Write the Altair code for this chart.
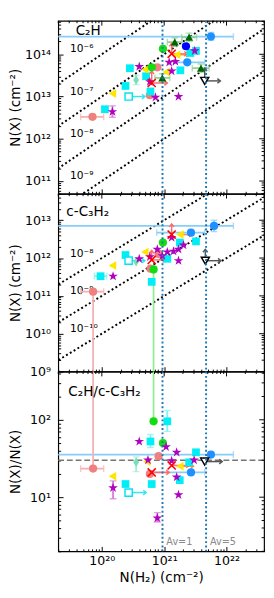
import math
import altair as alt
import pandas as pd

FONT = "DejaVu Sans"
W = 213
H = {1: 179, 2: 184, 3: 186}
XDOM = [2e19, 4e22]
YDOM = {1: [5e10, 6.2e14], 2: [1e9, 5e13], 3: [2, 420]}

# ---------------- values (log10 N(H2), log10 N(X) or log10 ratio)
C2H = {
    "salmon": ([19.85, 20.77, 20.89], [12.52, 13.03, 13.69]),
    "cyan": ([20.05, 20.38, 20.45, 20.71, 20.78, 21.26, 21.42, 21.51],
             [12.70, 13.25, 13.67, 13.48, 13.12, 13.62, 14.03, 14.08]),
    "aqua": ([20.55], [13.39]),
    "yellow": ([20.17, 20.69, 21.03, 21.20], [13.07, 13.64, 13.58, 13.99]),
    "lime": ([20.98, 20.80], [14.13, 13.69]),
    "purple": ([20.60, 20.17, 20.86, 21.23, 21.08, 21.18, 21.12, 21.49, 20.77],
               [13.71, 12.64, 12.98, 13.00, 13.81, 13.83, 13.60, 14.08, 13.35]),
    "blue": ([21.35], [14.19]),
    "dodger": ([21.75, 21.37], [14.42, 13.81]),
    "dkgreen": ([21.40, 21.17, 21.59, 20.97], [14.40, 14.29, 13.67, 13.44]),
    "redx": ([21.12, 20.80], [14.01, 13.32]),
    "cyan_open": ([20.43], [13.00]),
    "opentri": ([21.65], [13.37]),
}
C3H2 = {
    "salmon": ([19.86, 20.78, 20.91], [11.11, 11.72, 12.11]),
    "cyan": ([20.38, 19.98, 20.80, 21.25, 21.51, 21.05], [12.08, 11.52, 11.37, 12.41, 12.44, 11.98]),
    "aqua": ([20.55], [11.90]),
    "yellow": ([20.17, 20.69, 21.25], [11.80, 12.16, 12.62]),
    "lime": ([20.98, 20.83], [12.41, 11.70]),
    "purple": ([20.18, 20.60, 20.89, 21.05, 21.15, 21.23, 21.23, 21.12, 20.77, 20.97, 21.31],
               [11.52, 11.98, 12.23, 12.16, 12.18, 12.23, 11.93, 12.54, 12.03, 12.06, 12.34]),
    "dodger": ([21.80, 21.43], [12.85, 12.67]),
    "redx": ([21.12, 20.80], [12.62, 11.95]),
    "cyan_open": ([20.43], [11.93]),
    "opentri": ([21.66], [11.93]),
}
RATIO = {
    "salmon": ([19.86, 20.91, 20.77], [1.37, 1.53, 1.30]),
    "cyan": ([21.05, 20.78, 20.38, 20.80, 21.25, 21.51, 21.40], [1.98, 1.72, 1.17, 1.17, 1.22, 1.58, 1.45]),
    "aqua": ([20.55], [1.45]),
    "yellow": ([20.17, 20.72, 21.25], [1.27, 1.46, 1.40]),
    "lime": ([20.83, 20.98], [1.98, 1.70]),
    "purple": ([20.60, 20.18, 20.89, 21.03, 21.20, 20.74, 21.12, 21.48, 21.20, 21.23],
               [1.72, 1.12, 0.73, 1.65, 1.58, 1.48, 1.47, 1.48, 1.26, 1.03]),
    "dodger": ([21.75, 21.43], [1.55, 1.32]),
    "redx": ([20.80, 21.12], [1.32, 1.41]),
    "cyan_open": ([20.43], [1.06]),
    "opentri": ([21.65], [1.46]),
}

# x error bars: (panel, group, log y, log x low, log x high)
XERR = [
    (1, "dodger", 14.42, 19.0, 22.11), (1, "dodger", 13.81, 21.15, 21.65), (1, "salmon", 12.52, 19.66, 20.03),
    (1, "dkgreen", 14.40, 21.28, 21.52), (1, "dkgreen", 14.29, 21.05, 21.29),
    (1, "dkgreen", 13.67, 21.45, 21.72), (1, "dkgreen", 13.44, 20.85, 21.09),
    (2, "dodger", 12.85, 19.0, 22.11), (2, "dodger", 12.67, 20.88, 21.65), (2, "salmon", 11.11, 19.66, 20.03),
    (2, "cyan", 11.52, 19.88, 20.08),
    (3, "dodger", 1.55, 19.0, 22.11), (3, "dodger", 1.32, 20.75, 21.65), (3, "salmon", 1.37, 19.66, 20.03),
]
# y error bars: (panel, group, log x, log y low, log y high)
YERR = [
    (1, "dodger", 21.75, 14.33, 14.52), (1, "purple", 20.17, 12.51, 12.78), (1, "aqua", 20.55, 13.28, 13.50),
    (1, "dkgreen", 21.40, 14.30, 14.50), (1, "dkgreen", 21.17, 14.19, 14.39),
    (1, "dkgreen", 21.59, 13.57, 13.77), (1, "dkgreen", 20.97, 13.34, 13.54),
    (2, "dodger", 21.80, 12.70, 13.00), (2, "lime", 20.83, 8.0, 11.70), (2, "salmon", 19.86, 8.0, 11.11),
    (3, "lime", 20.83, 1.98, 3.0), (3, "salmon", 19.86, 1.37, 3.0),
    (3, "cyan", 21.05, 1.85, 2.12), (3, "cyan", 20.78, 1.64, 1.81),
    (3, "purple", 20.18, 0.98, 1.21), (3, "purple", 20.89, 0.68, 0.80), (3, "aqua", 20.55, 1.33, 1.52),
]
# limits drawn as arrows: (panel, group, log x, log y, direction, length in dex)
ARROWS = [
    (1, "redx", 21.12, 14.01, "up", 0.25), (1, "redx", 21.12, 14.01, "right", 0.25),
    (1, "redx", 20.80, 13.32, "up", 0.28), (1, "redx", 20.80, 13.32, "right", 0.25),
    (1, "cyan_open", 20.43, 13.00, "right", 0.26),
    (1, "opentri", 21.65, 13.37, "right", 0.25), (1, "opentri", 21.65, 13.37, "up", 0.3),
    (1, "orange", 21.20, 13.99, "right", 0.2),
    (2, "redx", 21.12, 12.62, "up", 0.28),
    (2, "redx", 20.80, 11.95, "up", 0.25), (2, "redx", 20.80, 11.95, "right", 0.22),
    (2, "cyan_open", 20.43, 11.93, "right", 0.26),
    (2, "opentri", 21.66, 11.93, "up", 0.3), (2, "opentri", 21.66, 11.93, "right", 0.25),
    (2, "orange", 21.25, 12.62, "right", 0.2),
    (3, "redx", 20.80, 1.32, "right", 0.28), (3, "redx", 21.12, 1.41, "right", 0.28),
    (3, "cyan_open", 20.43, 1.06, "right", 0.28),
    (3, "opentri", 21.65, 1.46, "right", 0.28),
    (3, "orange", 21.25, 1.40, "right", 0.22),
]

AV_VALUES = [9.4e20, 4.7e21]
AV_LABELS = ["Av=1", "Av=5"]
RATIO_REF = 30
ABUND = {1: [1e-6, 1e-7, 1e-8, 1e-9], 2: [1e-8, 1e-9, 1e-10]}
ABUND_TEXT = {1: ["10⁻⁶", "10⁻⁷", "10⁻⁸", "10⁻⁹"], 2: ["10⁻⁸", "10⁻⁹", "10⁻¹⁰"]}
ABUND_LABEL_X = 3.1e19
PANEL_TITLE = {1: "C₂H", 2: "c-C₃H₂", 3: "C₂H/c-C₃H₂"}
PANEL_TITLE_POS = {1: (3.8e19, 3.6e14), 2: (2.7e19, 1.6e13), 3: (2.9e19, 228)}
Y_TITLE = {1: "N(X) (cm⁻²)", 2: "N(X) (cm⁻²)", 3: "N(X)/N(X)"}

# ---------------- styles
STAR = "M0,-1L0.225,-0.309L0.951,-0.309L0.363,0.118L0.588,0.809L0,0.382L-0.588,0.809L-0.363,0.118L-0.951,-0.309L-0.225,-0.309Z"
XPATH = "M-1,-1L1,1M-1,1L1,-1"
THIN_DIAMOND = "M0,-1L0.62,0L0,1L-0.62,0Z"
HEAD = {"right": "M-1,-0.8L0,0L-1,0.8", "up": "M-0.8,1L0,0L0.8,1"}

MARK_COLOR = {"dodger": "#1E90FF", "blue": "#0000FF", "lime": "#11DD11", "salmon": "#F08080",
              "cyan": "#00EEF5", "yellow": "#FFE600", "aqua": "#72E3BC", "purple": "#B000C0",
              "dkgreen": "#006400", "redx": "#FF0000", "cyan_open": "#00E5EE", "opentri": "#000000"}
MARK_SHAPE = {"dodger": "circle", "blue": "circle", "lime": "circle", "salmon": "circle",
              "cyan": "square", "yellow": "triangle-left", "aqua": THIN_DIAMOND, "purple": STAR,
              "dkgreen": "triangle-up", "cyan_open": "square", "opentri": "triangle-down"}
MARK_SIZE = {"dodger": 72, "blue": 72, "lime": 72, "salmon": 72, "cyan": 64, "yellow": 80,
             "aqua": 95, "purple": 110, "dkgreen": 70, "cyan_open": 56, "opentri": 70}
ERR_COLOR = {"dodger": "#87CEFA", "salmon": "#F5B0B0", "lime": "#90EE90", "cyan": "#7FF2F5",
             "aqua": "#A5EBD5", "purple": "#D27ADA", "dkgreen": "#8FD18F", "redx": "#FF6A6A",
             "cyan_open": "#33E6EE", "opentri": "#555555", "orange": "#FF8A3D"}
FILLED = ["salmon", "cyan", "aqua", "yellow", "lime", "purple", "blue", "dodger", "dkgreen"]
OPEN = ["cyan_open", "opentri"]

SUP = str.maketrans("-0123456789", "⁻⁰¹²³⁴⁵⁶⁷⁸⁹")


def label_expr(exps):
    expr = "'10" + str(exps[-1]).translate(SUP) + "'"
    for e in reversed(exps[:-1]):
        expr = f"datum.value < {10 ** (e + 0.5):.6g} ? '10{str(e).translate(SUP)}' : ({expr})"
    return expr


def majors(dom):
    lo, hi = math.floor(math.log10(dom[0])), math.ceil(math.log10(dom[1]))
    return [e for e in range(lo, hi + 1) if dom[0] <= 10 ** e <= dom[1]]


def minors(dom):
    lo, hi = math.floor(math.log10(dom[0])), math.ceil(math.log10(dom[1]))
    return [k * 10.0 ** e for e in range(lo, hi + 1) for k in range(2, 10) if dom[0] <= k * 10.0 ** e <= dom[1]]


DATA = {1: C2H, 2: C3H2, 3: RATIO}


def panel(p):
    xs = alt.Scale(type="log", domain=XDOM, nice=False)
    ys = alt.Scale(type="log", domain=YDOM[p], nice=False)

    def X(f="x"):
        return alt.X(f"{f}:Q", scale=xs, axis=None)

    def Y(f="y"):
        return alt.Y(f"{f}:Q", scale=ys, axis=None)

    layers = []
    # abundance lines
    if p in ABUND:
        rows = []
        for a in ABUND[p]:
            rows += [{"x": 1e19, "y": a * 1e19, "a": str(a)}, {"x": 1e23, "y": a * 1e23, "a": str(a)}]
        layers.append(alt.Chart(pd.DataFrame(rows)).mark_line(
            clip=True, color="black", strokeWidth=2, strokeDash=[2, 2.6]).encode(
            x=X(), y=Y(), detail="a:N"))
        lab = pd.DataFrame({"x": [ABUND_LABEL_X] * len(ABUND[p]),
                            "y": [a * 1.3e20 for a in ABUND[p]], "t": ABUND_TEXT[p]})
        layers.append(alt.Chart(lab).mark_text(align="left", baseline="middle", font=FONT,
                                               fontSize=11, color="black").encode(x=X(), y=Y(), text="t:N"))
    if p == 3:
        layers.append(alt.Chart(pd.DataFrame({"y": [RATIO_REF]})).mark_rule(
            color="#777777", strokeWidth=1.6, strokeDash=[6, 3]).encode(y=Y()))
        av = pd.DataFrame({"x": AV_VALUES, "y": [2.6, 2.6], "t": AV_LABELS})
        layers.append(alt.Chart(av).mark_text(align="left", baseline="middle", dx=4, font=FONT,
                                              fontSize=10, color="#8a8a8a").encode(x=X(), y=Y(), text="t:N"))

    # error bars
    xe = pd.DataFrame([{"x": 10 ** lo, "x2": 10 ** hi, "y": 10 ** ly, "col": ERR_COLOR[g]}
                       for (pp, g, ly, lo, hi) in XERR if pp == p])
    ye = pd.DataFrame([{"x": 10 ** lx, "y": 10 ** lo, "y2": 10 ** hi, "col": ERR_COLOR[g]}
                       for (pp, g, lx, lo, hi) in YERR if pp == p])
    if len(xe):
        layers.append(alt.Chart(xe).mark_rule(clip=True, strokeWidth=1.8).encode(
            x=X(), x2="x2:Q", y=Y(), color=alt.Color("col:N", scale=None)))
        caps = pd.concat([xe[["x", "y", "col"]], xe[["x2", "y", "col"]].rename(columns={"x2": "x"})])
        layers.append(alt.Chart(caps).mark_tick(clip=True, orient="vertical", thickness=1.4, size=7).encode(
            x=X(), y=Y(), color=alt.Color("col:N", scale=None)))
    if len(ye):
        layers.append(alt.Chart(ye).mark_rule(clip=True, strokeWidth=1.8).encode(
            x=X(), y=Y(), y2="y2:Q", color=alt.Color("col:N", scale=None)))
        caps = pd.concat([ye[["x", "y", "col"]], ye[["x", "y2", "col"]].rename(columns={"y2": "y"})])
        layers.append(alt.Chart(caps).mark_tick(clip=True, orient="horizontal", thickness=1.4, size=7).encode(
            x=X(), y=Y(), color=alt.Color("col:N", scale=None)))

    # arrows
    ar = []
    for (pp, g, lx, ly, d, ln) in ARROWS:
        if pp != p:
            continue
        lx2, ly2 = (lx + ln, ly) if d == "right" else (lx, ly + ln)
        ar.append({"x": 10 ** lx, "y": 10 ** ly, "x2": 10 ** lx2, "y2": 10 ** ly2,
                   "col": ERR_COLOR[g], "shp": HEAD[d]})
    ar = pd.DataFrame(ar)
    layers.append(alt.Chart(ar).mark_rule(strokeWidth=1.5).encode(
        x=X(), x2="x2:Q", y=Y(), y2="y2:Q", color=alt.Color("col:N", scale=None)))
    layers.append(alt.Chart(ar).mark_point(filled=False, strokeWidth=1.5, size=36, opacity=1).encode(
        x=X("x2"), y=Y("y2"), shape=alt.Shape("shp:N", scale=None), color=alt.Color("col:N", scale=None)))

    # markers
    d = DATA[p]
    pts = []
    for g in FILLED + OPEN + ["redx"]:
        if g not in d:
            continue
        for a, b in zip(*d[g]):
            pts.append({"g": g, "x": 10 ** a, "y": 10 ** b, "col": MARK_COLOR[g],
                        "shp": MARK_SHAPE.get(g, "circle"), "sz": MARK_SIZE.get(g, 64)})
    pts = pd.DataFrame(pts)
    layers.append(alt.Chart(pts[pts.g.isin(FILLED)]).mark_point(filled=True, opacity=1, strokeWidth=0).encode(
        x=X(), y=Y(), shape=alt.Shape("shp:N", scale=None), color=alt.Color("col:N", scale=None),
        size=alt.Size("sz:Q", scale=None)))
    layers.append(alt.Chart(pts[pts.g.isin(OPEN)]).mark_point(fill="white", fillOpacity=1, strokeWidth=1.5,
                                                              opacity=1).encode(
        x=X(), y=Y(), shape=alt.Shape("shp:N", scale=None), stroke=alt.Stroke("col:N", scale=None),
        size=alt.Size("sz:Q", scale=None)))
    layers.append(alt.Chart(pts[pts.g == "redx"]).mark_point(shape=XPATH, filled=False, strokeWidth=1.6,
                                                             size=70, color="#FF0000", opacity=1).encode(
        x=X(), y=Y()))

    # Av lines
    layers.append(alt.Chart(pd.DataFrame({"x": AV_VALUES})).mark_rule(
        color="#1f77b4", strokeWidth=2, strokeDash=[2, 2.5]).encode(x=X()))

    # panel title
    tx, ty = PANEL_TITLE_POS[p]
    layers.append(alt.Chart(pd.DataFrame({"x": [tx], "y": [ty], "t": [PANEL_TITLE[p]]})).mark_text(
        align="left", baseline="middle", font=FONT, fontSize=14, color="black").encode(x=X(), y=Y(), text="t:N"))

    # inward ticks on the top and right frame edges
    xt = pd.DataFrame({"x": [10.0 ** e for e in majors(XDOM)] + minors(XDOM),
                       "len": [5] * len(majors(XDOM)) + [2.5] * len(minors(XDOM))})
    for ln in (5, 2.5):
        layers.append(alt.Chart(xt[xt.len == ln]).mark_rule(color="black", strokeWidth=1).encode(
            x=X(), y=alt.value(0), y2=alt.value(ln)))
    yt = pd.DataFrame({"y": [10.0 ** e for e in majors(YDOM[p])] + minors(YDOM[p]),
                       "len": [5] * len(majors(YDOM[p])) + [2.5] * len(minors(YDOM[p]))})
    for ln in (5, 2.5):
        layers.append(alt.Chart(yt[yt.len == ln]).mark_rule(color="black", strokeWidth=1).encode(
            y=Y(), x=alt.value(W), x2=alt.value(W - ln)))

    # axes (labels on the left/bottom, inward ticks on the bottom/left edges)
    dummy = pd.DataFrame({"x": [1e21], "y": [math.sqrt(YDOM[p][0] * YDOM[p][1])]})
    base = alt.Chart(dummy).mark_point(opacity=0)
    xmaj = [10.0 ** e for e in majors(XDOM)]
    ymaj_e = majors(YDOM[p])
    ymaj = [10.0 ** e for e in ymaj_e]
    common = dict(grid=False, labelFont=FONT, titleFont=FONT, labelColor="black", titleColor="black",
                  titleFontWeight="normal")
    xlab = None
    if p == 3:
        xlab = alt.Axis(orient="bottom", values=xmaj, labelExpr=label_expr(majors(XDOM)), ticks=False,
                        domain=False, labelFontSize=13, labelPadding=4, title="N(H₂) (cm⁻²)",
                        titleFontSize=14, titlePadding=3, **common)
    ylab = alt.Axis(orient="left", values=ymaj, labelExpr=label_expr(ymaj_e), ticks=False, domain=False,
                    labelFontSize=13, labelPadding=8, title=Y_TITLE[p], titleFontSize=14,
                    titleX=-44, titleBaseline="middle", **common)
    layers.append(base.encode(x=alt.X("x:Q", scale=xs, axis=xlab), y=alt.Y("y:Q", scale=ys, axis=ylab)))
    for xv, yv, ts in ((xmaj, ymaj, 5), (minors(XDOM), minors(YDOM[p]), 2.5)):
        ax = alt.Axis(orient="top", offset=-H[p], values=xv, tickSize=ts, tickColor="black", tickWidth=1,
                      labels=False, domain=False, grid=False, title=None, minExtent=0, maxExtent=0)
        ay = alt.Axis(orient="right", offset=-W, values=yv, tickSize=ts, tickColor="black", tickWidth=1,
                      labels=False, domain=False, grid=False, title=None, minExtent=0, maxExtent=0)
        layers.append(base.encode(x=alt.X("x:Q", scale=xs, axis=ax), y=alt.Y("y:Q", scale=ys, axis=ay)))

    return alt.layer(*layers).resolve_axis(x="independent", y="independent").properties(width=W, height=H[p])


chart = alt.vconcat(panel(1), panel(2), panel(3), spacing=0, bounds="flush").properties(
    padding={"left": 0, "top": 1, "right": 0, "bottom": 0}
).configure_view(stroke="black", strokeWidth=1.2)

chart.save("out.html", embed_options={"renderer": "svg", "actions": False})
